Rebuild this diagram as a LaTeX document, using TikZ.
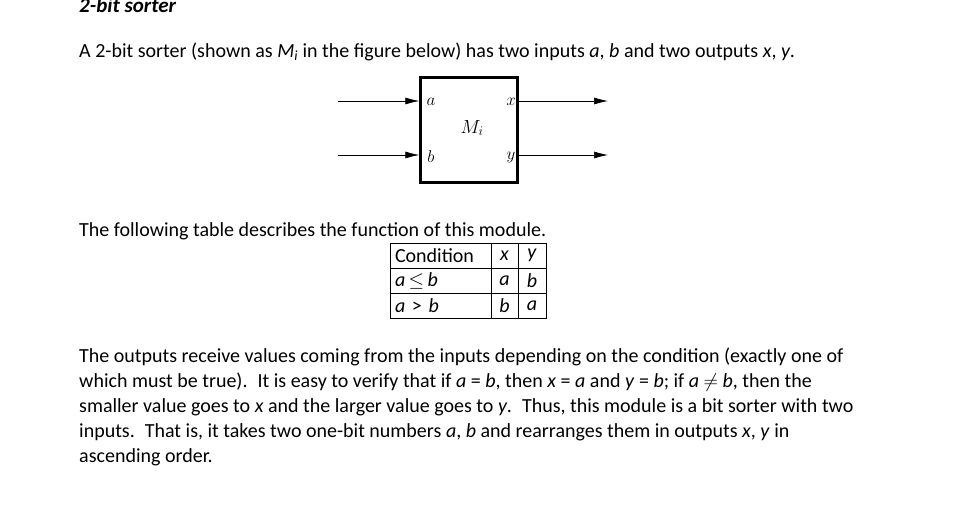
\RequirePackage{fix-cm}
\documentclass[tikz,border=0pt]{standalone}
\usepackage{fontspec}
\setmainfont{Carlito}
\usetikzlibrary{arrows.meta}
\begin{document}
\begin{tikzpicture}[x=1pt,y=-1pt,
  txt/.style={anchor=west,inner sep=0pt,font=\fontsize{20}{22}\selectfont},
  mlab/.style={inner sep=0pt,font=\fontsize{17}{19}\selectfont},
  arr/.style={-{Latex[length=14pt,width=7pt]},line width=0.6pt},
  cell/.style={draw,line width=0.7pt,minimum height=25pt,inner sep=0pt,font=\fontsize{20}{22}\selectfont}]
\useasboundingbox (0,0) rectangle (970,510);
\node[txt,font=\fontsize{21}{22}\selectfont\bfseries\itshape] (title) at (79,5) {2-bit sorter};
\node[txt] (l1) at (79,52) {A 2-bit sorter (shown as \textit{M\textsubscript{i}} in the figure below) has two inputs \textit{a}, \textit{b} and two outputs \textit{x}, \textit{y}.};
% box
\node[draw,line width=2.5pt,minimum width=97pt,minimum height=105pt,inner sep=0pt] (box) at (469,130) {};
\coordinate (ia) at (338,101); \coordinate (ib) at (338,155);
\coordinate (oa) at (608,101); \coordinate (ob) at (608,155);
\draw[arr] (ia) -- (ia -| box.west);
\draw[arr] (ib) -- (ib -| box.west);
\draw[arr] (oa -| box.east) -- (oa);
\draw[arr] (ob -| box.east) -- (ob);
\node[mlab] (la) at (431,102) {$a$};
\node[mlab] (lb) at (431,157) {$b$};
\node[mlab] (lx) at (511,102) {$x$};
\node[mlab] (ly) at (511,157) {$y$};
\node[mlab,font=\fontsize{19}{21}\selectfont] (lm) at (472,128) {$M_i$};
\node[txt] (l2) at (79,231) {The following table describes the function of this module.};
% table
\node[cell,minimum width=101pt,text width=91pt,align=left] (c11) at (440.5,255.5) {Condition};
\node[cell,minimum width=27pt] (c12) at (504.5,255.5) {\textit{x}};
\node[cell,minimum width=28pt] (c13) at (532,255.5) {\textit{y}};
\node[cell,minimum width=101pt,text width=91pt,align=left] (c21) at (440.5,280.5) {\textit{a}\,$\le$\,\textit{b}};
\node[cell,minimum width=27pt] (c22) at (504.5,280.5) {\textit{a}};
\node[cell,minimum width=28pt] (c23) at (532,280.5) {\textit{b}};
\node[cell,minimum width=101pt,text width=91pt,align=left] (c31) at (440.5,305.5) {\textit{a} > \textit{b}};
\node[cell,minimum width=27pt] (c32) at (504.5,305.5) {\textit{b}};
\node[cell,minimum width=28pt] (c33) at (532,305.5) {\textit{a}};
\node[txt] (p1) at (79,357) {The outputs receive values coming from the inputs depending on the condition (exactly one of};
\node[txt] (p2) at (79,382) {which must be true).\enspace It is easy to verify that if \textit{a} = \textit{b}, then \textit{x} = \textit{a} and \textit{y} = \textit{b}; if \textit{a} $\neq$ \textit{b}, then the};
\node[txt] (p3) at (79,407) {smaller value goes to \textit{x} and the larger value goes to \textit{y}.\enspace Thus, this module is a bit sorter with two};
\node[txt] (p4) at (79,432) {inputs.\enspace That is, it takes two one-bit numbers \textit{a}, \textit{b} and rearranges them in outputs \textit{x}, \textit{y} in};
\node[txt] (p5) at (79,457) {ascending order.};
\end{tikzpicture}
\end{document}
